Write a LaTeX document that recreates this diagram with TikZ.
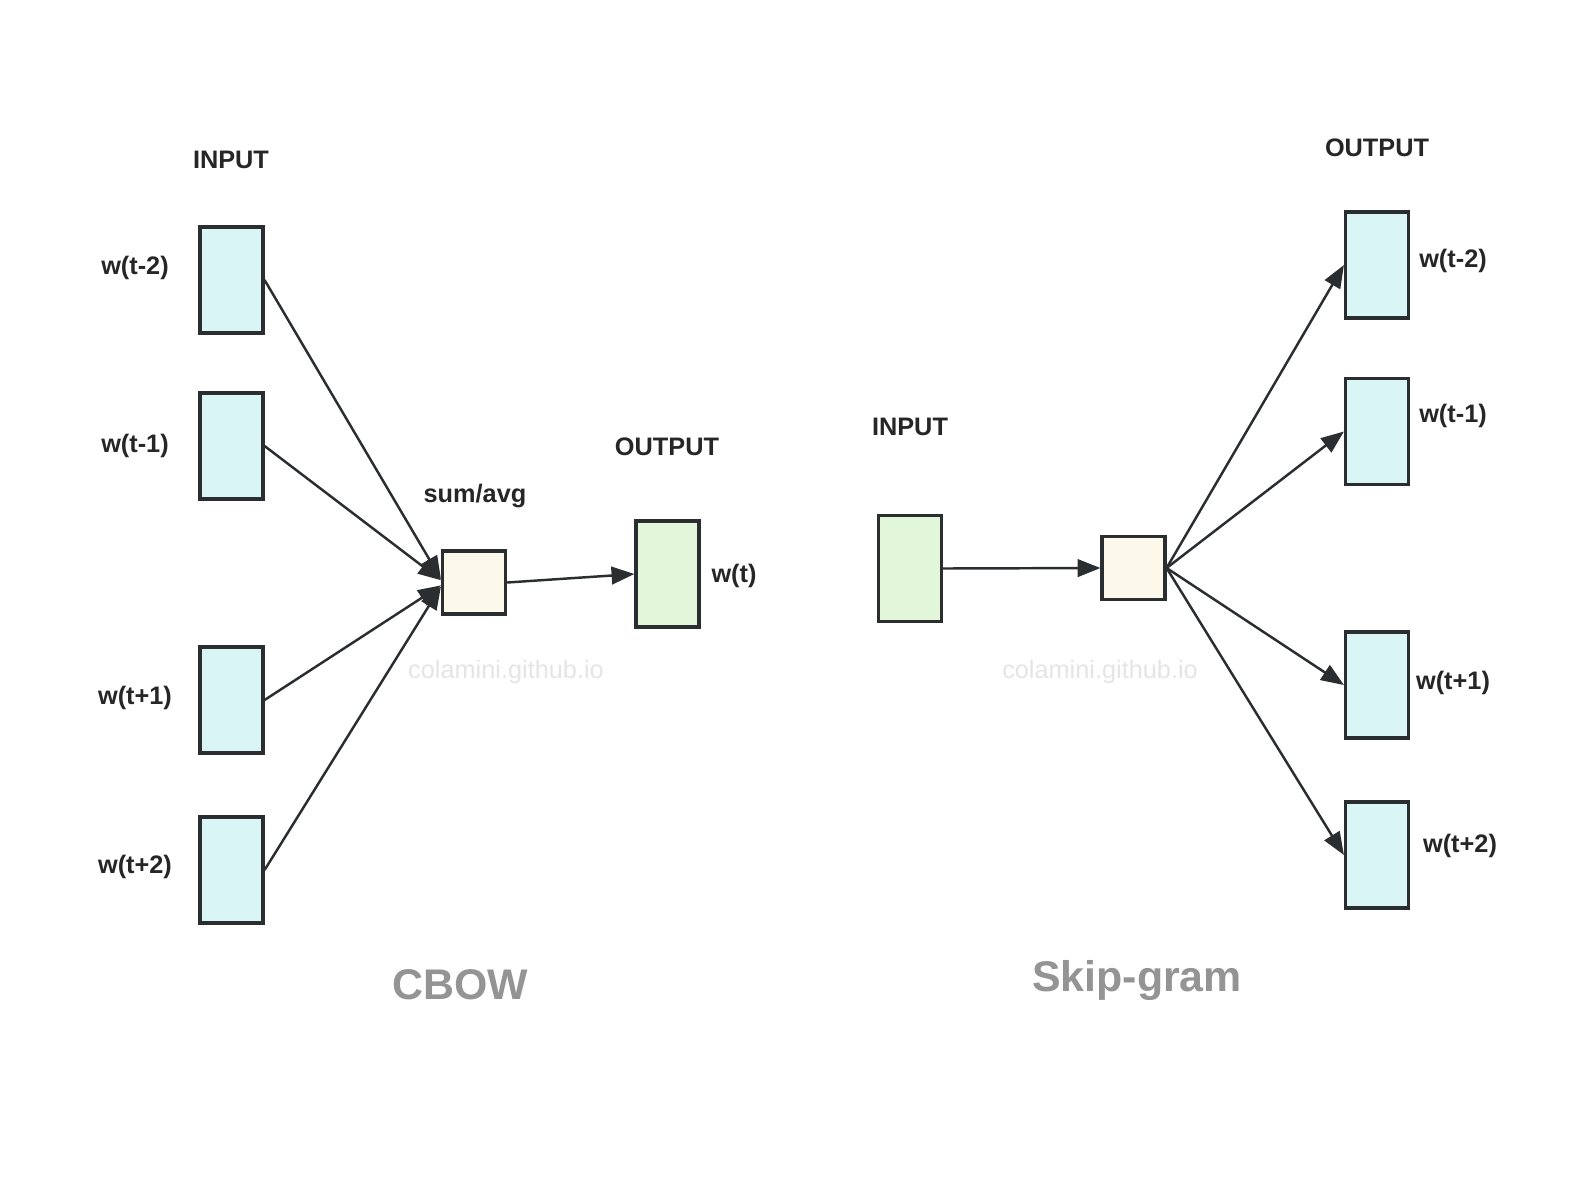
\documentclass[tikz,border=0pt]{standalone}
\usepackage{fontspec}
\setmainfont{Liberation Sans}
\usetikzlibrary{arrows.meta}
\definecolor{boxline}{HTML}{2B2E30}
\definecolor{wordfill}{HTML}{DAF5F5}
\definecolor{centerfill}{HTML}{E2F6DA}
\definecolor{hiddenfill}{HTML}{FCF8EA}
\tikzset{
	wordbox/.style={draw=boxline, line width=0.9pt, fill=wordfill, minimum width=0.63cm, minimum height=1.06cm, inner sep=0pt},
	centerbox/.style={wordbox, fill=centerfill},
	hiddenbox/.style={wordbox, fill=hiddenfill, minimum height=0.63cm},
	lbl/.style={font=\fontsize{7.2}{8}\selectfont\bfseries, text=black!85, inner sep=0pt},
	title/.style={font=\fontsize{12.2}{14}\selectfont\bfseries, text=black!42, inner sep=0pt},
	watermark/.style={font=\fontsize{7.2}{8}\selectfont, text=black!10, inner sep=0pt},
	link/.style={draw=boxline, line width=0.7pt, -{Triangle[length=6.5pt,width=5pt]}}
}
\begin{document}
\begin{tikzpicture}
			%%%%% START %%%%%
			\useasboundingbox[fill=white] (0, 0) rectangle (15.91, 11.82);
			
			% CBOW
			\node[lbl] (cinput) at (2.31, 10.22) {INPUT};
			\node[wordbox] (cm2) at (2.315, 9.02) {};
			\node[wordbox] (cm1) at (2.315, 7.36) {};
			\node[wordbox] (cp1) at (2.315, 4.82) {};
			\node[wordbox] (cp2) at (2.315, 3.12) {};
			\node[lbl] (cm2l) at (1.35, 9.14) {w(t-2)};
			\node[lbl] (cm1l) at (1.35, 7.36) {w(t-1)};
			\node[lbl] (cp1l) at (1.35, 4.84) {w(t+1)};
			\node[lbl] (cp2l) at (1.35, 3.15) {w(t+2)};
			
			\node[hiddenbox] (sum) at (4.74, 5.995) {};
			\node[lbl] (suml) at (4.75, 6.86) {sum/avg};
			\node[centerbox] (cout) at (6.675, 6.08) {};
			\node[lbl] (coutput) at (6.67, 7.35) {OUTPUT};
			\node[lbl] (coutl) at (7.34, 6.06) {w(t)};
			
			\draw[link] (cm2.east) -- (sum.174);
			\draw[link] (cm1.east) -- (sum.176);
			\draw[link] (cp1.east) -- (sum.185);
			\draw[link] (cp2.east) -- (sum.187);
			\draw[link] (sum.east) -- (cout.west);
			
			\node[watermark] (cmark) at (5.06, 5.10) {colamini.github.io};
			\node[title] (cbow) at (4.60, 1.97) {CBOW};
			
			% Skip-gram
			\node[lbl] (sinput) at (9.10, 7.55) {INPUT};
			\node[centerbox] (sin) at (9.10, 6.135) {};
			\node[hiddenbox] (hid) at (11.335, 6.14) {};
			\node[lbl] (soutput) at (13.77, 10.34) {OUTPUT};
			\node[wordbox] (sm2) at (13.77, 9.17) {};
			\node[wordbox] (sm1) at (13.77, 7.505) {};
			\node[wordbox] (sp1) at (13.77, 4.97) {};
			\node[wordbox] (sp2) at (13.77, 3.27) {};
			\node[lbl] (sm2l) at (14.53, 9.21) {w(t-2)};
			\node[lbl] (sm1l) at (14.53, 7.66) {w(t-1)};
			\node[lbl] (sp1l) at (14.53, 4.99) {w(t+1)};
			\node[lbl] (sp2l) at (14.60, 3.36) {w(t+2)};
			
			\draw[link] (sin.east) -- (hid.west);
			\draw[link] (hid.east) -- (sm2.west);
			\draw[link] (hid.east) -- (sm1.west);
			\draw[link] (hid.east) -- (sp1.west);
			\draw[link] (hid.east) -- (sp2.west);
			
			\node[watermark] (smark) at (11.00, 5.10) {colamini.github.io};
			\node[title] (skip) at (11.37, 2.02) {Skip-gram};
			%%%%% END %%%%%
\end{tikzpicture}
\end{document}
